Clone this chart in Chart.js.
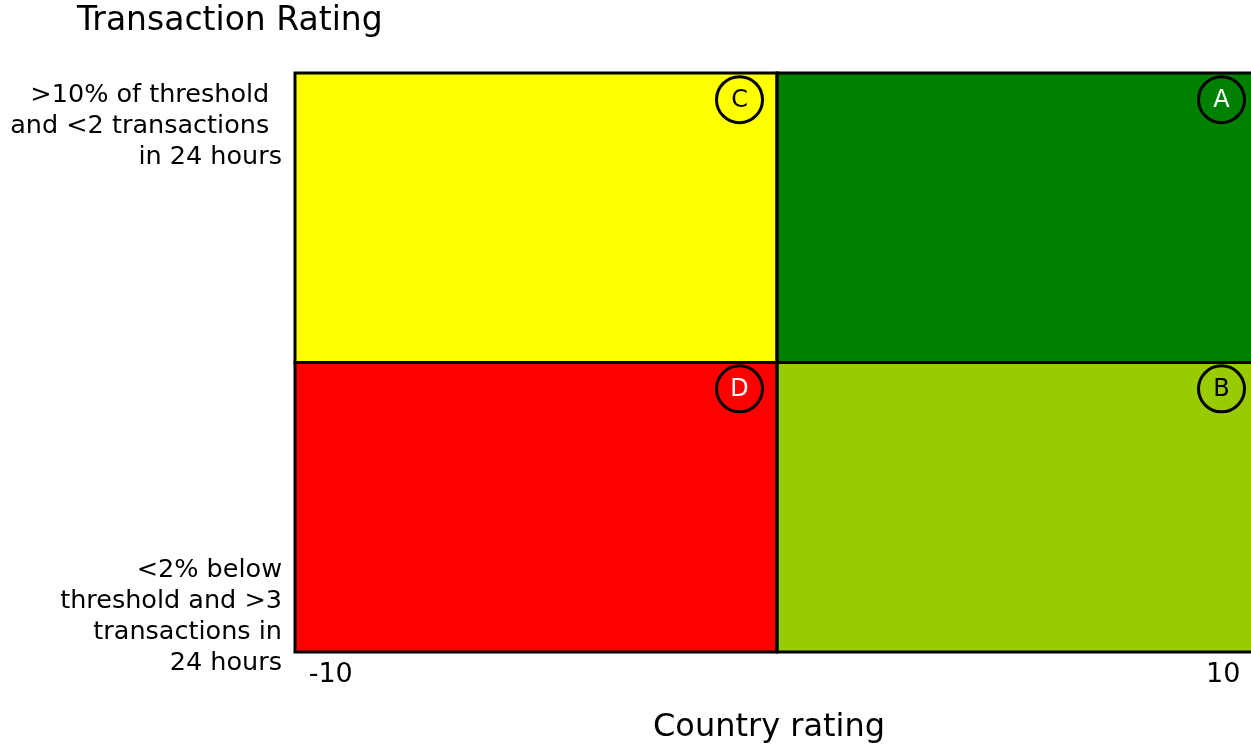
<!DOCTYPE html>
<html>
<head>
<meta charset="utf-8">
<script src="https://cdn.jsdelivr.net/npm/chart.js@4/dist/chart.umd.min.js"></script>
<style>
  html, body { margin: 0; padding: 0; overflow: hidden; background: #fff; }
  #outer { width: 1251px; height: 747px; overflow: hidden; position: relative; }
  #wrap { position: absolute; left: 0; top: 0; width: 1270px; height: 747px; }
</style>
</head>
<body>
<div id="outer"><div id="wrap"><canvas id="c" width="1270" height="747"></canvas></div></div>
<script>
// ---- data ----
const quadrantNames = ['A', 'B', 'C', 'D'];
const quadrantXFrom = [0, 0, -10.8, -10.8];
const quadrantXTo = [10.8, 10.8, 0, 0];
const quadrantYFrom = [1, 0, 1, 0];
const quadrantYTo = [2, 1, 2, 1];
const quadrantColors = ['#008000', '#99cc00', '#ffff00', '#ff0000'];
const markerX = [9.96, 9.96, -0.84, -0.84];
const markerY = [1.908, 0.909, 1.908, 0.909];
const markerTextColors = ['#ffffff', '#000000', '#000000', '#ffffff'];
const xTickValues = [-10, 10];
const xTickLabels = ['-10', '10'];
const yTickValues = [1.817, 0.123];
const yTickLabels = [
  ['>10% of threshold\u2002', 'and <2 transactions\u2002', 'in 24 hours'],
  ['<2% below', 'threshold and >3', 'transactions in', '24 hours']
];
const chartTitle = 'Transaction Rating';
const xTitle = 'Country rating\u2002';

const FONT = "'DejaVu Sans', Verdana, sans-serif";

const quadrantPlugin = {
  id: 'quadrants',
  beforeDatasetsDraw(chart) {
    const ctx = chart.ctx, xs = chart.scales.x, ys = chart.scales.y;
    ctx.save();
    quadrantNames.forEach((n, i) => {
      const x0 = xs.getPixelForValue(quadrantXFrom[i]);
      const x1 = xs.getPixelForValue(quadrantXTo[i]);
      const y0 = ys.getPixelForValue(quadrantYTo[i]);
      const y1 = ys.getPixelForValue(quadrantYFrom[i]);
      ctx.fillStyle = quadrantColors[i];
      ctx.fillRect(x0, y0, x1 - x0, y1 - y0);
    });
    ctx.lineWidth = 3;
    ctx.strokeStyle = '#000';
    quadrantNames.forEach((n, i) => {
      const x0 = xs.getPixelForValue(quadrantXFrom[i]);
      const x1 = xs.getPixelForValue(quadrantXTo[i]);
      const y0 = ys.getPixelForValue(quadrantYTo[i]);
      const y1 = ys.getPixelForValue(quadrantYFrom[i]);
      ctx.strokeRect(x0, y0, x1 - x0, y1 - y0);
    });
    ctx.restore();
  },
  afterDatasetsDraw(chart) {
    const ctx = chart.ctx;
    const meta = chart.getDatasetMeta(0);
    ctx.save();
    ctx.font = '24px ' + FONT;
    ctx.textAlign = 'center';
    ctx.textBaseline = 'middle';
    meta.data.forEach((pt, i) => {
      ctx.fillStyle = markerTextColors[i];
      ctx.fillText(quadrantNames[i], pt.x, pt.y + 1);
    });
    ctx.restore();
  },
  afterDraw(chart) {
    const ctx = chart.ctx;
    ctx.save();
    ctx.font = '33px ' + FONT;
    ctx.fillStyle = '#000';
    ctx.textAlign = 'left';
    ctx.textBaseline = 'middle';
    ctx.fillText(chartTitle, 77, 21);
    ctx.restore();
  }
};

new Chart(document.getElementById('c'), {
  type: 'scatter',
  data: {
    datasets: [{
      data: markerX.map((x, i) => ({ x: x, y: markerY[i] })),
      pointRadius: 23,
      pointHoverRadius: 23,
      pointBorderWidth: 3,
      pointBorderColor: '#000',
      pointBackgroundColor: quadrantColors,
      clip: false
    }]
  },
  options: {
    responsive: false,
    animation: false,
    events: [],
    layout: { autoPadding: false, padding: { top: 73, right: 11, left: 0, bottom: 0 } },
    plugins: { legend: { display: false }, tooltip: { enabled: false }, title: { display: false } },
    scales: {
      x: {
        type: 'linear', min: -10.8, max: 10.8,
        grid: { display: false, drawTicks: false },
        border: { display: false },
        afterBuildTicks(s) { s.ticks = xTickValues.map(v => ({ value: v })); },
        afterFit(s) { s.height = 95; s.paddingLeft = 0; s.paddingRight = 0; },
        ticks: {
          autoSkip: false, maxRotation: 0, padding: 7, color: '#000',
          font: { family: FONT, size: 27 },
          callback(v) { const i = xTickValues.indexOf(v); return i >= 0 ? xTickLabels[i] : ''; }
        },
        title: { display: true, text: xTitle, color: '#000', font: { family: FONT, size: 32 }, padding: { top: 0, bottom: 0 } }
      },
      y: {
        type: 'linear', min: 0, max: 2,
        grid: { display: false, drawTicks: false },
        border: { display: false },
        afterBuildTicks(s) { s.ticks = yTickValues.map(v => ({ value: v })); },
        afterFit(s) { s.width = 295; s.paddingTop = 0; s.paddingBottom = 0; },
        ticks: {
          autoSkip: false, padding: 13, color: '#000',
          font: { family: FONT, size: 25.5, lineHeight: 1.216 },
          callback(v) { const i = yTickValues.indexOf(v); return i >= 0 ? yTickLabels[i] : ''; }
        }
      }
    }
  },
  plugins: [quadrantPlugin]
});
</script>
</body>
</html>
